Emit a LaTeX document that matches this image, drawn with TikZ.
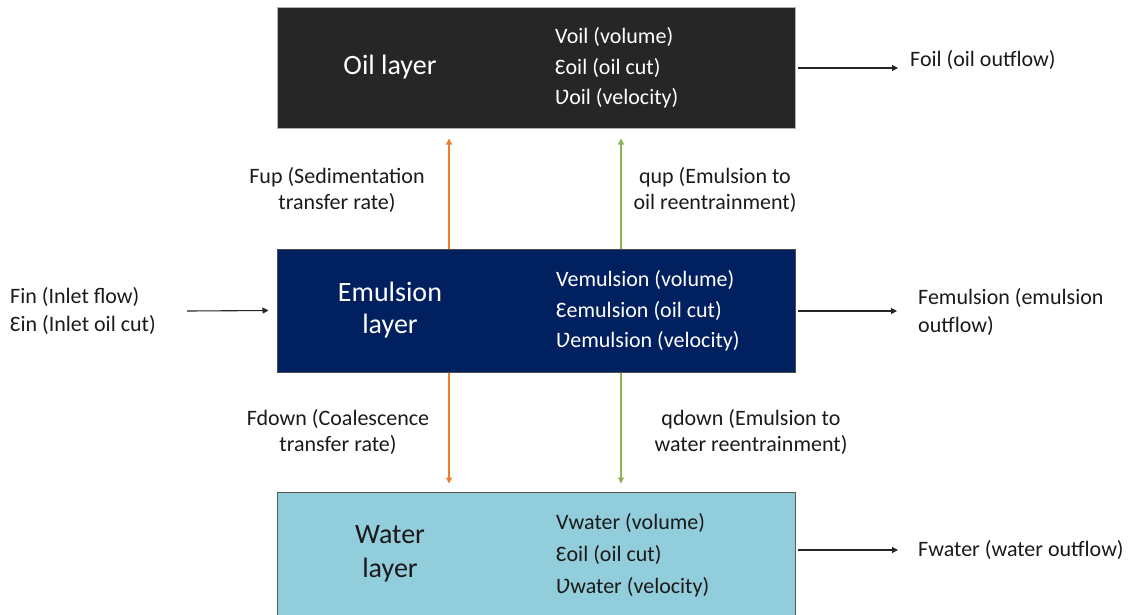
\documentclass[tikz,border=0pt]{standalone}
\usepackage{fontspec}
\setmainfont{Carlito}
\usetikzlibrary{arrows.meta,calc}

\definecolor{oilfill}{HTML}{262626}
\definecolor{emulfill}{HTML}{002060}
\definecolor{waterfill}{HTML}{92CDDC}
\definecolor{uporange}{HTML}{ED7D31}
\definecolor{upgreen}{HTML}{8DB255}
\definecolor{txt}{HTML}{1A1A1A}

\tikzset{
  layerbox/.style={draw=#1, line width=1pt, minimum width=518pt, inner sep=0pt},
  layertitle/.style={align=center, inner sep=0pt, font=\fontsize{28}{32}\selectfont},
  layervars/.style={anchor=west, align=left, inner sep=0pt, text=white, font=\fontsize{22}{30.5}\selectfont},
  flowlabel/.style={align=center, inner sep=0pt, text=txt, font=\fontsize{22}{25.5}\selectfont},
  sidelabel/.style={anchor=west, align=left, inner sep=0pt, text=txt, font=\fontsize{22}{28.5}\selectfont},
  flowarrow/.style={line width=1.1pt, -{Triangle[length=6pt,width=6pt]}},
  outarrow/.style={flowarrow, draw=black!85},
}

\begin{document}
\begin{tikzpicture}[x=1pt,y=-1pt]
\useasboundingbox (0,0) rectangle (1134,614);
\clip (0,0) rectangle (1134,614);

% the three layers
\node[layerbox=gray!60, fill=oilfill, minimum height=121pt] (oil) at (536,67.5) {};
\node[layerbox=black!70, fill=emulfill, minimum height=123pt] (emul) at (536,310.5) {};
\node[layerbox=gray!70!black, fill=waterfill, minimum height=126pt] (water) at (536,555) {};

% layer names
\node[layertitle, text=white] (oilname) at (390,67) {Oil layer};
\node[layertitle, text=white] (emulname) at (390,310) {Emulsion\\layer};
\node[layertitle, text=txt, font=\fontsize{28}{34}\selectfont] (watername) at (390,554) {Water\\layer};

% state variables of each layer
\node[layervars] (oilvars) at (555,68) {Voil (volume)\\Ɛoil (oil cut)\\Ʋoil (velocity)};
\node[layervars] (emulvars) at (556,311) {Vemulsion (volume)\\Ɛemulsion (oil cut)\\Ʋemulsion (velocity)};
\node[layervars, text=txt, font=\fontsize{22}{32}\selectfont] (watervars) at (556,555) {Vwater (volume)\\Ɛoil (oil cut)\\Ʋwater (velocity)};

% transfer between layers
\draw[flowarrow, draw=uporange] ([xshift=-87pt]emul.north) -- ([xshift=-87pt,yshift=-10pt]oil.south);
\draw[flowarrow, draw=upgreen] ([xshift=85pt]emul.north) -- ([xshift=85pt,yshift=-10pt]oil.south);
\draw[flowarrow, draw=uporange] ([xshift=-87pt]emul.south) -- ([xshift=-87pt,yshift=8pt]water.north);
\draw[flowarrow, draw=upgreen] ([xshift=85pt]emul.south) -- ([xshift=85pt,yshift=8pt]water.north);

\node[flowlabel] (fup) at (337,190) {Fup (Sedimentation\\transfer rate)};
\node[flowlabel] (qup) at (715,190) {qup (Emulsion to\\oil reentrainment)};
\node[flowlabel] (fdown) at (338,432) {Fdown (Coalescence\\transfer rate)};
\node[flowlabel] (qdown) at (751,432) {qdown (Emulsion to\\water reentrainment)};

% inlet
\node[sidelabel] (fin) at (10,311) {Fin (Inlet flow)\\Ɛin (Inlet oil cut)};
\coordinate (inlet) at (187,311);
\draw[outarrow] (inlet) -- ([xshift=-8pt]emul.west);

% outlets
\coordinate (oilout) at (898,68);
\coordinate (emulout) at (897,311);
\coordinate (waterout) at (898,550);
\draw[outarrow] (oil.east |- oilout) ++(2pt,0) -- (oilout);
\draw[outarrow] (emul.east |- emulout) ++(2pt,0) -- (emulout);
\draw[outarrow] (water.east |- waterout) ++(2pt,0) -- (waterout);

\node[sidelabel] (foil) at (910,60) {Foil (oil outflow)};
\node[sidelabel] (femul) at (918,312) {Femulsion (emulsion\\outflow)};
\node[sidelabel] (fwater) at (918,550) {Fwater (water outflow)};
\end{tikzpicture}
\end{document}
